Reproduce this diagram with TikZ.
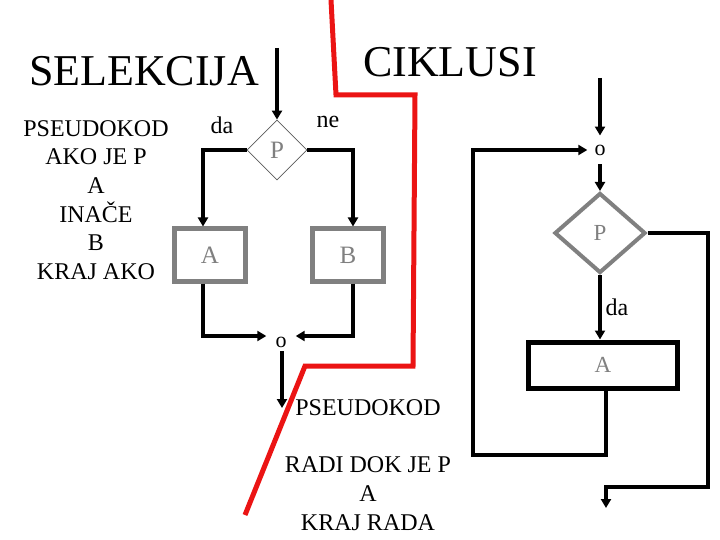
\documentclass[tikz,border=0pt]{standalone}
\usepackage{fontspec}
\setmainfont{Liberation Serif}
\usetikzlibrary{shapes.geometric,arrows.meta}
\definecolor{boxgrey}{RGB}{128,128,128}
\definecolor{cutred}{RGB}{235,20,20}

\begin{document}
\begin{tikzpicture}[x=1pt,y=-1pt,
    flow/.style={line width=4.5pt, -{Triangle[length=9pt,width=10pt]}},
    txt/.style={font=\fontsize{24}{28.7}\selectfont, align=center},
    heading/.style={font=\fontsize{44}{48}\selectfont, inner sep=0pt},
    dot/.style={font=\fontsize{22}{26}\selectfont, inner xsep=9pt, inner ysep=4pt},
    greybox/.style={draw=boxgrey, line width=5pt, rectangle, text=boxgrey,
        font=\fontsize{25}{28}\selectfont, minimum width=71pt, minimum height=52pt},
    blackbox/.style={draw=black, line width=5pt, rectangle, text=boxgrey,
        font=\fontsize{23}{28}\selectfont, minimum width=149pt, minimum height=46pt},
    thindiamond/.style={draw=boxgrey!70!black, line width=0.8pt, diamond, inner sep=0pt,
        text=boxgrey, font=\fontsize{25}{28}\selectfont, minimum width=60pt, minimum height=60pt},
    greydiamond/.style={draw=boxgrey, line width=4pt, diamond, inner sep=0pt,
        text=boxgrey, font=\fontsize{23}{28}\selectfont, minimum width=91pt, minimum height=80pt}]
  \useasboundingbox (0,0) rectangle (720,540);

  % dividing line
  \draw[cutred, line width=5pt, line join=miter] (331,0) -- (336,95) -- (415,95)
      -- (413,366) -- (305,366) -- (245,515);

  % titles
  \node[heading] (selekcija) at (144,71) {SELEKCIJA};
  \node[heading] (ciklusi) at (450,62) {CIKLUSI};

  % selection
  \node[txt] (ifcode) at (96,200) {PSEUDOKOD\\AKO JE P\\A\\INAČE\\B\\KRAJ AKO};
  \coordinate (ifin) at (277,48);
  \node[thindiamond] (ifp) at (277,150) {P};
  \node[greybox] (ifa) at (210,255) {A};
  \node[greybox] (ifb) at (348,255) {B};
  \node[dot] (ifjoin) at (281,342) {o};
  \coordinate (ifout) at (282,408);
  \node[txt] (yes1) at (222,125) {da};
  \node[txt] (no1) at (328,122) {ne};

  \draw[flow] (ifin) -- (ifp.north);
  \draw[flow] (ifp.west) -| ([xshift=-7pt]ifa.north);
  \draw[flow] (ifp.east) -| ([xshift=5pt]ifb.north);
  \draw[flow] ([xshift=-7pt]ifa.south) |- ([yshift=6pt]ifjoin.west);
  \draw[flow] ([xshift=5pt]ifb.south) |- ([yshift=6pt]ifjoin.east);
  \draw[flow] (ifjoin.south -| ifout) -- (ifout);

  % loop
  \node[txt] (loopcode) at (368,465) {PSEUDOKOD\\ \\RADI DOK JE P\\A\\KRAJ RADA};
  \coordinate (loopin) at (600,78);
  \node[dot, inner ysep=9pt, inner xsep=7pt] (loopjoin) at (600,150) {o};
  \node[greydiamond] (loopp) at (600,233) {P};
  \node[blackbox] (loopa) at (603,365) {A};
  \coordinate (backcorner) at (473,455);
  \coordinate (exitcorner) at (708,487);
  \coordinate (loopout) at (606,508);

  \draw[flow] (loopin) -- (loopjoin.north);
  \draw[flow] (loopjoin.south) -- (loopp.north);
  \draw[flow] (loopp.south) -- (loopp.south |- loopa.north)
      node[midway, right, txt] (yes2) {da};
  \draw[flow] (loopa.south -| loopout) |- (backcorner) |- (loopjoin.west);
  \draw[flow, line width=4pt] (loopp.east) -| (exitcorner) -| (loopout);
\end{tikzpicture}
\end{document}
